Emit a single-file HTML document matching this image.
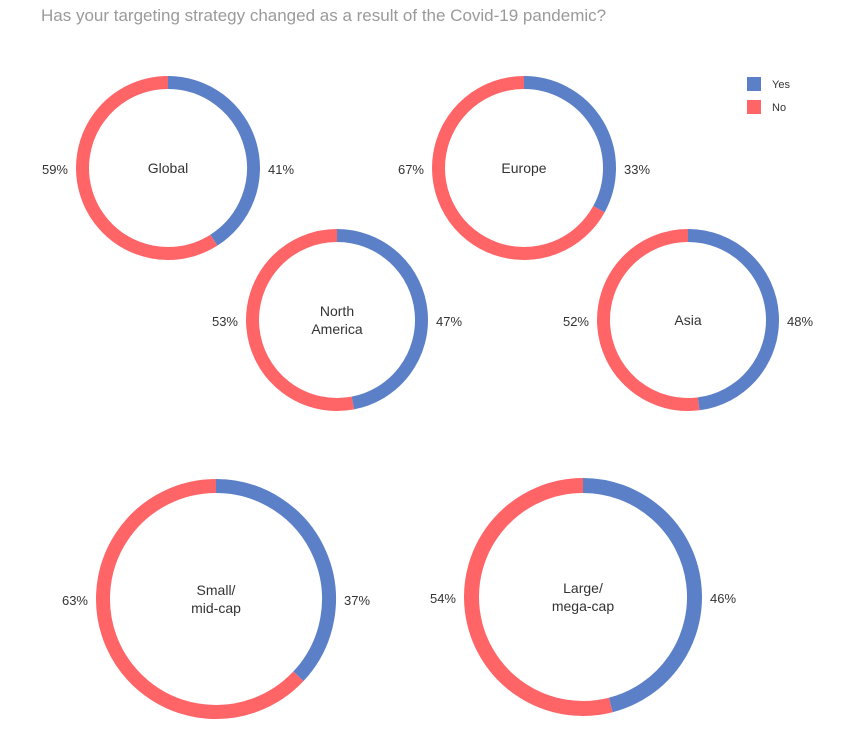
<!DOCTYPE html>
<html><head><meta charset="utf-8"><style>
body{margin:0;background:#fff;width:868px;height:753px;overflow:hidden;font-family:"Liberation Sans",sans-serif}
#title{position:absolute;left:41px;top:6px;font-size:17px;color:#9a9a9a}
</style></head><body>
<div id="title">Has your targeting strategy changed as a result of the Covid-19 pandemic?</div>
<svg id="chart" width="868" height="753" style="position:absolute;left:0;top:0">
<g>
<rect x="747" y="77" width="14" height="14" fill="#5b80c8"/>
<text x="772" y="88" font-size="11" fill="#333">Yes</text>
<rect x="747" y="100" width="14" height="14" fill="#ff6467"/>
<text x="772" y="111" font-size="11" fill="#333">No</text>
</g>
</svg>
<script>
const categories=[["Global"],["Europe"],["North","America"],["Asia"],["Small/","mid-cap"],["Large/","mega-cap"]];
const yesValues=[41,33,47,48,37,46];
const noValues=[59,67,53,52,63,54];
const layout=[[168,168,92,13],[524,168,92,13],[337,320,91,13],[688,320,91,13],[216,599,120,14],[583,597,119,15]];
const svg=document.getElementById('chart');const NS='http://www.w3.org/2000/svg';
function pt(cx,cy,r,f){const a=f*2*Math.PI;return [cx+r*Math.sin(a),cy-r*Math.cos(a)];}
function arc(cx,cy,r,f0,f1){const p0=pt(cx,cy,r,f0),p1=pt(cx,cy,r,f1);const large=(f1-f0)>0.5?1:0;return `M${p0[0]},${p0[1]}A${r},${r} 0 ${large} 1 ${p1[0]},${p1[1]}`;}
categories.forEach((c,i)=>{
const [cx,cy,R,t]=layout[i];const r=R-t/2;const tot=yesValues[i]+noValues[i];const fy=yesValues[i]/tot;
const g=document.createElementNS(NS,'g');


const y=document.createElementNS(NS,'path');
y.setAttribute('d',arc(cx,cy,r,0,fy));y.setAttribute('stroke','#5b80c8');y.setAttribute('stroke-width',t);y.setAttribute('fill','none');


g.appendChild(y);
const n=document.createElementNS(NS,'path');
n.setAttribute('d',arc(cx,cy,r,fy,1));n.setAttribute('stroke','#ff6467');n.setAttribute('stroke-width',t);n.setAttribute('fill','none');


g.appendChild(n);
const lbl=document.createElementNS(NS,'text');


lbl.setAttribute('text-anchor','middle');lbl.setAttribute('font-size','14');lbl.setAttribute('fill','#333');
const y0=cy+5-(c.length-1)*9;
c.forEach((s,k)=>{const ts=document.createElementNS(NS,'tspan');ts.setAttribute('x',cx);ts.setAttribute('y',y0+k*18);ts.textContent=s;lbl.appendChild(ts);});
g.appendChild(lbl);
const yl=document.createElementNS(NS,'text');


yl.setAttribute('x',cx+R+8);yl.setAttribute('y',cy+6);yl.setAttribute('font-size','13');yl.setAttribute('fill','#333');yl.textContent=yesValues[i]+'%';g.appendChild(yl);
const nl=document.createElementNS(NS,'text');


nl.setAttribute('x',cx-R-8);nl.setAttribute('y',cy+6);nl.setAttribute('text-anchor','end');nl.setAttribute('font-size','13');nl.setAttribute('fill','#333');nl.textContent=noValues[i]+'%';g.appendChild(nl);
svg.appendChild(g);
});
</script>
</body></html>
